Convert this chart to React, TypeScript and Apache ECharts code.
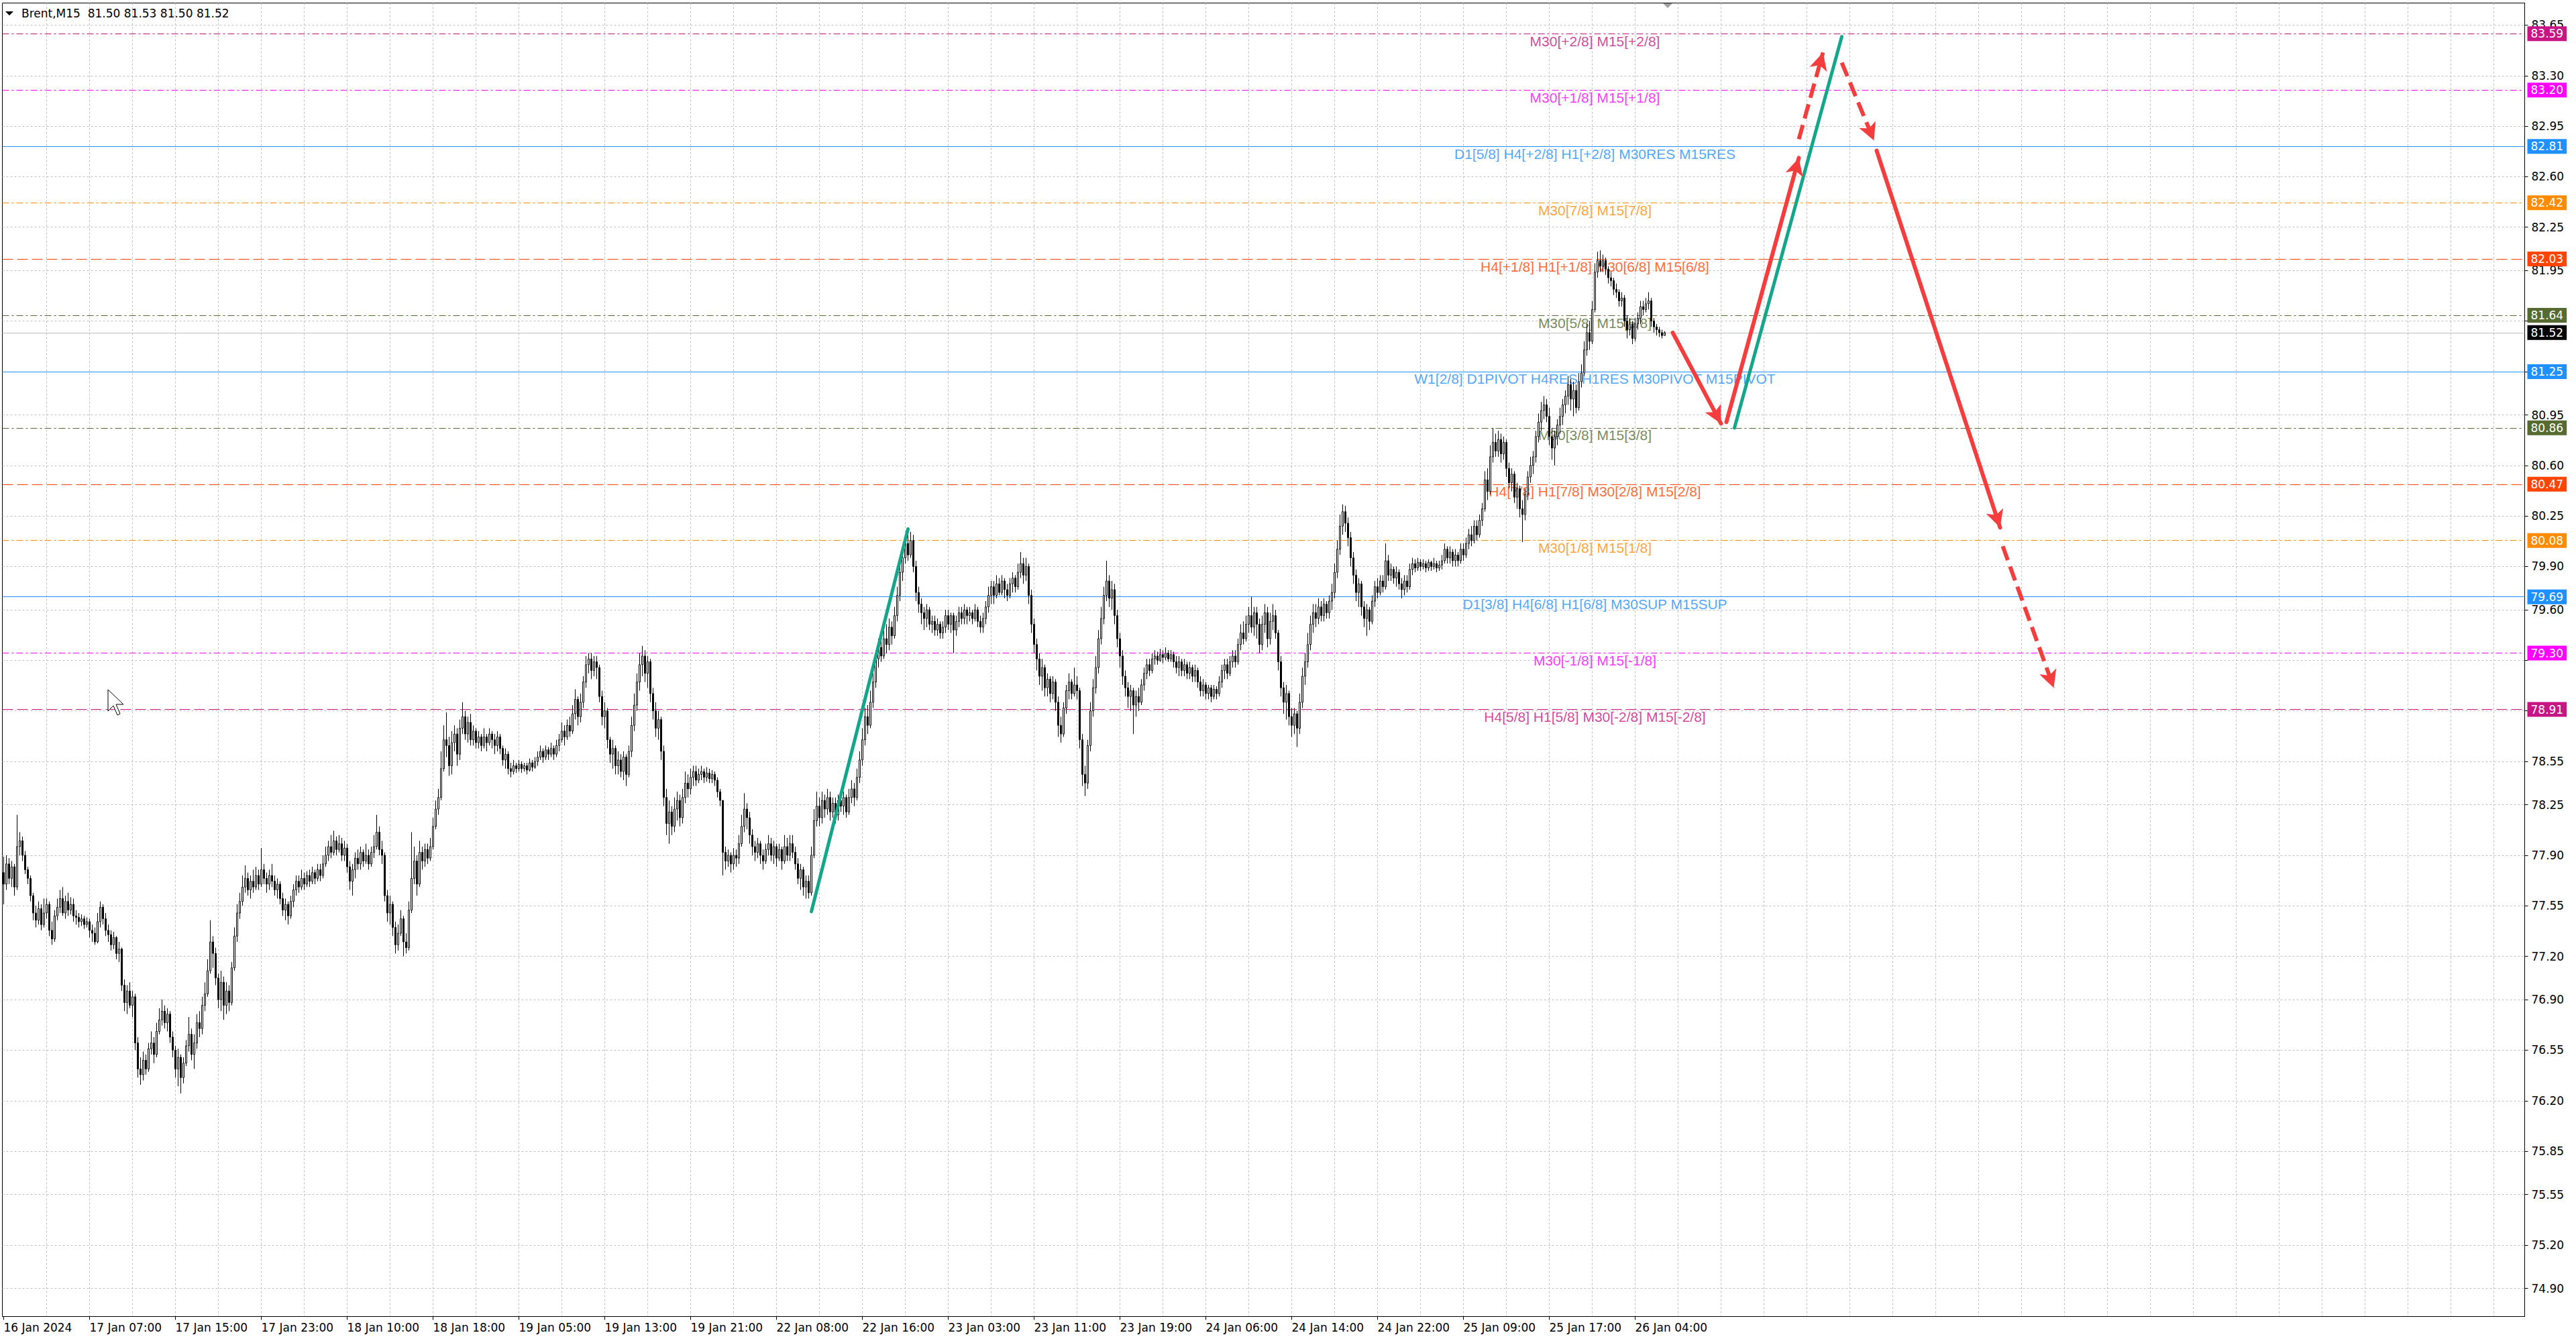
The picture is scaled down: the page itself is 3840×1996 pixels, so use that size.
import React, { useEffect, useRef } from 'react';
import * as echarts from 'echarts';

const header = 'Brent,M15  81.50 81.53 81.50 81.52';

const dateLabels = ['16 Jan 2024', '17 Jan 07:00', '17 Jan 15:00', '17 Jan 23:00', '18 Jan 10:00', '18 Jan 18:00', '19 Jan 05:00', '19 Jan 13:00', '19 Jan 21:00', '22 Jan 08:00', '22 Jan 16:00', '23 Jan 03:00', '23 Jan 11:00', '23 Jan 19:00', '24 Jan 06:00', '24 Jan 14:00', '24 Jan 22:00', '25 Jan 09:00', '25 Jan 17:00', '26 Jan 04:00'];

// price grid ticks; those listed in coveredTicks sit under a level price box in the reference
const yTicks = [74.90, 75.20, 75.55, 75.85, 76.20, 76.55, 76.90, 77.20, 77.55, 77.90, 78.25, 78.55, 78.90, 79.25, 79.60, 79.90, 80.25, 80.60, 80.95, 81.25, 81.60, 81.95, 82.25, 82.60, 82.95, 83.30, 83.65];
const coveredTicks = [78.90, 79.25, 81.25, 81.60];

const firstOpen = 77.78;
const closes = [
  77.70,77.84,77.74,77.82,77.68,77.96,78.00,77.90,77.80,77.74,
  77.62,77.50,77.45,77.53,77.42,77.50,77.56,77.38,77.32,77.48,
  77.54,77.60,77.50,77.58,77.52,77.56,77.48,77.47,77.44,77.46,
  77.42,77.44,77.38,77.36,77.30,77.44,77.54,77.46,77.38,77.35,
  77.28,77.33,77.22,77.25,77.00,76.88,76.96,76.86,76.92,76.60,
  76.42,76.38,76.48,76.42,76.56,76.60,76.52,76.68,76.76,76.82,
  76.74,76.80,76.64,76.55,76.42,76.50,76.36,76.46,76.58,76.66,
  76.52,76.60,76.74,76.70,76.86,76.94,77.10,77.30,77.22,77.05,
  76.90,77.02,76.86,76.96,76.88,77.12,77.34,77.50,77.58,77.68,
  77.74,77.66,77.72,77.68,77.76,77.70,77.80,77.74,77.70,77.76,
  77.72,77.66,77.70,77.60,77.52,77.56,77.48,77.58,77.66,77.72,
  77.68,77.74,77.70,77.76,77.72,77.78,77.74,77.80,77.76,77.84,
  77.90,77.96,77.92,78.00,77.94,77.98,77.90,77.95,77.82,77.72,
  77.80,77.88,77.84,77.92,77.86,77.90,77.84,77.92,77.96,78.06,
  77.94,77.90,77.62,77.50,77.56,77.40,77.28,77.36,77.46,77.30,
  77.26,77.52,77.74,77.86,77.70,77.92,77.86,77.94,77.88,77.96,
  78.10,78.22,78.30,78.50,78.70,78.66,78.52,78.68,78.74,78.60,
  78.78,78.86,78.74,78.82,78.70,78.76,78.68,78.72,78.66,78.72,
  78.68,78.74,78.70,78.66,78.72,78.64,78.56,78.60,78.50,78.48,
  78.52,78.50,78.53,78.50,78.52,78.49,78.54,78.51,78.55,78.58,
  78.62,78.58,78.63,78.60,78.64,78.60,78.66,78.70,78.76,78.72,
  78.80,78.76,78.88,78.98,78.86,78.96,79.10,79.22,79.26,79.18,
  79.24,79.20,79.00,78.86,78.90,78.70,78.60,78.64,78.52,78.56,
  78.48,78.58,78.46,78.62,78.80,78.94,79.10,79.22,79.28,79.16,
  79.24,79.02,78.90,78.78,78.84,78.62,78.30,78.12,78.20,78.10,
  78.22,78.28,78.16,78.30,78.40,78.36,78.44,78.48,78.42,78.46,
  78.48,78.44,78.47,78.43,78.46,78.42,78.34,78.28,77.92,77.86,
  77.90,77.84,77.90,77.88,77.98,78.10,78.22,78.16,78.04,77.96,
  77.92,77.98,77.90,77.86,77.94,77.98,77.90,77.96,77.88,77.94,
  77.86,77.96,77.90,77.98,77.92,77.84,77.74,77.80,77.68,77.72,
  77.64,77.90,78.14,78.24,78.16,78.28,78.22,78.30,78.20,78.26,
  78.18,78.28,78.24,78.30,78.20,78.30,78.36,78.30,78.44,78.56,
  78.70,78.86,78.80,78.96,79.10,79.26,79.34,79.28,79.40,79.36,
  79.48,79.42,79.56,79.70,79.86,79.96,80.06,79.98,80.08,79.90,
  79.72,79.64,79.58,79.54,79.60,79.50,79.52,79.46,79.50,79.44,
  79.48,79.56,79.50,79.56,79.46,79.52,79.58,79.54,79.60,79.56,
  79.58,79.54,79.60,79.52,79.48,79.54,79.62,79.70,79.76,79.70,
  79.78,79.72,79.80,79.74,79.70,79.78,79.82,79.76,79.86,79.92,
  79.84,79.90,79.70,79.50,79.36,79.26,79.14,79.20,79.06,79.12,
  79.02,79.10,78.96,78.80,78.74,78.92,79.04,79.10,79.02,79.08,
  79.04,78.70,78.46,78.40,78.66,78.90,79.06,79.20,79.40,79.54,
  79.70,79.80,79.68,79.74,79.56,79.40,79.28,79.14,79.06,79.00,
  79.04,78.94,79.00,78.96,79.08,79.16,79.22,79.18,79.26,79.28,
  79.25,79.29,79.27,79.30,79.26,79.29,79.24,79.20,79.24,79.18,
  79.22,79.16,79.20,79.14,79.18,79.10,79.04,79.08,79.02,79.06,
  79.00,79.05,79.02,79.10,79.18,79.22,79.16,79.24,79.28,79.24,
  79.36,79.44,79.40,79.50,79.56,79.48,79.58,79.50,79.36,79.50,
  79.58,79.40,79.52,79.56,79.44,79.24,79.06,78.96,79.02,78.86,
  78.80,78.88,78.78,78.96,79.14,79.24,79.36,79.50,79.58,79.54,
  79.62,79.56,79.64,79.58,79.66,79.72,79.86,80.02,80.18,80.28,
  80.20,80.10,79.96,79.84,79.72,79.78,79.62,79.54,79.60,79.52,
  79.66,79.76,79.72,79.80,79.76,79.94,79.84,79.88,79.82,79.86,
  79.78,79.74,79.80,79.76,79.88,79.92,79.89,79.93,79.90,79.92,
  79.89,79.93,79.90,79.92,79.89,79.91,79.94,80.02,79.96,80.00,
  79.94,79.98,79.94,80.02,79.98,80.06,80.12,80.08,80.18,80.12,
  80.22,80.30,80.50,80.42,80.66,80.76,80.70,80.78,80.68,80.76,
  80.58,80.48,80.54,80.38,80.44,80.30,80.26,80.40,80.52,80.60,
  80.66,80.80,80.90,80.98,81.02,80.94,80.80,80.72,80.80,80.88,
  80.94,81.02,81.08,81.16,81.06,81.12,81.00,81.18,81.24,81.40,
  81.52,81.46,81.68,81.94,82.02,81.98,82.02,81.96,81.90,81.88,
  81.82,81.80,81.74,81.76,81.60,81.54,81.58,81.48,81.58,81.62,
  81.70,81.68,81.72,81.74,81.60,81.56,81.54,81.52,81.50,81.52,
];
const highs = [
  77.89,77.90,77.88,77.86,77.84,78.18,78.06,78.03,77.93,77.82,
  77.76,77.64,77.55,77.58,77.56,77.60,77.60,77.58,77.44,77.52,
  77.60,77.66,77.68,77.62,77.64,77.61,77.60,77.52,77.50,77.49,
  77.48,77.47,77.46,77.42,77.40,77.50,77.58,77.56,77.50,77.42,
  77.38,77.37,77.34,77.30,77.26,77.04,77.00,77.02,76.96,76.94,
  76.64,76.50,76.54,76.52,76.60,76.68,76.64,76.74,76.84,76.90,
  76.86,76.84,76.82,76.68,76.58,76.56,76.52,76.50,76.62,76.78,
  76.70,76.66,76.80,76.82,76.92,77.02,77.18,77.45,77.34,77.26,
  77.08,77.10,77.06,77.02,77.00,77.16,77.40,77.56,77.64,77.76,
  77.83,77.78,77.76,77.80,77.82,77.80,77.95,77.84,77.78,77.80,
  77.84,77.76,77.74,77.72,77.64,77.60,77.58,77.62,77.70,77.76,
  77.76,77.80,77.78,77.79,77.80,77.82,77.80,77.84,77.84,77.90,
  77.96,78.00,78.04,78.07,78.03,78.04,78.02,78.00,77.98,77.86,
  77.84,77.92,77.94,77.96,77.94,77.98,77.94,77.96,78.04,78.18,
  78.10,78.00,77.92,77.66,77.62,77.58,77.44,77.42,77.52,77.48,
  77.36,77.58,78.06,77.96,77.90,78.00,77.96,77.98,77.98,78.02,
  78.16,78.28,78.36,78.62,78.80,78.89,78.72,78.76,78.80,78.78,
  78.84,78.96,78.90,78.86,78.88,78.80,78.78,78.76,78.74,78.78,
  78.74,78.78,78.76,78.74,78.76,78.74,78.66,78.64,78.62,78.54,
  78.56,78.54,78.56,78.55,78.54,78.54,78.57,78.56,78.58,78.62,
  78.66,78.64,78.66,78.65,78.68,78.66,78.70,78.74,78.82,78.80,
  78.84,78.86,78.94,79.05,79.00,79.02,79.14,79.28,79.30,79.30,
  79.28,79.28,79.22,79.04,78.96,78.92,78.72,78.70,78.66,78.62,
  78.60,78.62,78.60,78.66,78.86,79.02,79.16,79.30,79.35,79.32,
  79.28,79.26,79.06,78.96,78.90,78.86,78.66,78.36,78.28,78.24,
  78.30,78.34,78.32,78.36,78.48,78.46,78.50,78.52,78.52,78.50,
  78.52,78.50,78.51,78.50,78.49,78.48,78.44,78.36,78.28,77.96,
  77.94,77.92,77.95,77.94,78.04,78.18,78.33,78.26,78.20,78.08,
  78.00,78.02,78.00,77.94,77.98,78.04,78.02,78.00,77.98,77.98,
  77.96,78.04,78.02,78.04,78.04,77.96,77.88,77.84,77.82,77.76,
  77.76,77.96,78.22,78.34,78.30,78.34,78.32,78.36,78.34,78.30,
  78.30,78.32,78.36,78.34,78.32,78.36,78.42,78.40,78.50,78.62,
  78.78,78.92,78.94,79.04,79.16,79.32,79.40,79.42,79.46,79.50,
  79.54,79.52,79.62,79.76,79.92,80.02,80.12,80.16,80.14,80.12,
  79.94,79.76,79.68,79.62,79.64,79.62,79.56,79.56,79.54,79.52,
  79.52,79.60,79.60,79.58,79.58,79.56,79.62,79.62,79.64,79.62,
  79.62,79.60,79.64,79.62,79.56,79.58,79.66,79.76,79.80,79.80,
  79.84,79.82,79.84,79.82,79.78,79.82,79.86,79.84,79.92,80.00,
  79.96,79.96,79.92,79.74,79.54,79.40,79.30,79.26,79.22,79.16,
  79.14,79.14,79.12,79.00,78.86,78.96,79.08,79.16,79.12,79.20,
  79.14,79.06,78.74,78.52,78.70,78.96,79.12,79.28,79.46,79.62,
  79.76,79.94,79.84,79.80,79.78,79.60,79.44,79.32,79.18,79.10,
  79.08,79.06,79.04,79.06,79.12,79.20,79.26,79.26,79.30,79.32,
  79.31,79.33,79.32,79.34,79.32,79.32,79.31,79.28,79.28,79.26,
  79.26,79.24,79.24,79.22,79.22,79.20,79.14,79.12,79.10,79.08,
  79.08,79.08,79.07,79.14,79.22,79.26,79.26,79.28,79.32,79.32,
  79.40,79.50,79.52,79.56,79.62,79.69,79.62,79.62,79.54,79.56,
  79.64,79.62,79.58,79.64,79.60,79.46,79.28,79.10,79.08,79.04,
  78.92,78.92,78.90,79.02,79.20,79.30,79.44,79.56,79.64,79.64,
  79.68,79.66,79.68,79.66,79.70,79.78,79.92,80.08,80.26,80.33,
  80.32,80.24,80.14,80.00,79.88,79.82,79.80,79.66,79.64,79.62,
  79.70,79.80,79.82,79.84,79.84,80.06,79.98,79.92,79.90,79.90,
  79.88,79.82,79.84,79.84,79.92,79.96,79.95,79.96,79.95,79.95,
  79.94,79.95,79.94,79.96,79.94,79.94,79.98,80.06,80.04,80.04,
  80.02,80.02,80.00,80.06,80.06,80.10,80.16,80.18,80.22,80.22,
  80.26,80.34,80.56,80.58,80.74,80.86,80.82,80.84,80.82,80.80,
  80.78,80.62,80.58,80.56,80.48,80.46,80.36,80.44,80.56,80.66,
  80.70,80.84,80.96,81.04,81.08,81.06,81.00,80.86,80.84,80.92,
  81.00,81.06,81.12,81.22,81.20,81.18,81.16,81.24,81.30,81.46,
  81.58,81.60,81.74,82.00,82.08,82.09,82.06,82.04,81.98,81.94,
  81.90,81.86,81.82,81.80,81.78,81.64,81.62,81.60,81.62,81.66,
  81.74,81.74,81.76,81.80,81.76,81.62,81.58,81.56,81.54,81.53,
];
const lows = [
  77.56,77.66,77.70,77.68,77.62,77.66,77.90,77.86,77.77,77.70,
  77.58,77.45,77.40,77.42,77.38,77.40,77.46,77.34,77.28,77.30,
  77.45,77.50,77.48,77.46,77.48,77.49,77.44,77.42,77.40,77.41,
  77.39,77.40,77.33,77.30,77.28,77.29,77.40,77.42,77.34,77.30,
  77.24,77.25,77.18,77.16,76.96,76.82,76.80,76.84,76.78,76.55,
  76.36,76.31,76.34,76.38,76.40,76.52,76.46,76.50,76.66,76.72,
  76.70,76.68,76.60,76.50,76.36,76.30,76.25,76.32,76.44,76.54,
  76.48,76.42,76.56,76.64,76.66,76.82,76.92,77.08,77.12,77.00,
  76.84,76.82,76.76,76.80,76.82,76.86,77.10,77.30,77.46,77.55,
  77.64,77.62,77.60,77.64,77.66,77.66,77.68,77.70,77.64,77.66,
  77.68,77.62,77.60,77.56,77.48,77.45,77.42,77.46,77.54,77.62,
  77.64,77.66,77.66,77.68,77.68,77.70,77.70,77.72,77.72,77.74,
  77.82,77.86,77.88,77.90,77.90,77.92,77.86,77.86,77.78,77.66,
  77.62,77.74,77.80,77.80,77.82,77.84,77.80,77.82,77.88,77.94,
  77.90,77.84,77.58,77.44,77.42,77.34,77.22,77.24,77.34,77.20,
  77.22,77.24,77.50,77.70,77.62,77.68,77.80,77.82,77.84,77.86,
  77.94,78.08,78.18,78.28,78.48,78.58,78.45,78.46,78.62,78.52,
  78.56,78.74,78.70,78.68,78.66,78.66,78.64,78.64,78.62,78.64,
  78.62,78.66,78.64,78.60,78.62,78.60,78.52,78.50,78.46,78.44,
  78.46,78.47,78.48,78.47,78.48,78.46,78.48,78.48,78.50,78.52,
  78.56,78.54,78.56,78.56,78.58,78.56,78.58,78.62,78.68,78.66,
  78.70,78.72,78.74,78.84,78.80,78.82,78.92,79.06,79.16,79.12,
  79.14,79.12,78.96,78.80,78.78,78.64,78.54,78.50,78.46,78.46,
  78.44,78.42,78.38,78.44,78.58,78.76,78.90,79.04,79.14,79.10,
  79.06,78.96,78.84,78.72,78.70,78.56,78.24,78.04,77.98,78.04,
  78.06,78.14,78.10,78.12,78.26,78.30,78.32,78.38,78.38,78.40,
  78.42,78.40,78.41,78.40,78.40,78.38,78.30,78.24,77.76,77.80,
  77.82,77.78,77.80,77.82,77.84,77.96,78.06,78.08,77.98,77.90,
  77.86,77.88,77.84,77.80,77.84,77.90,77.86,77.84,77.82,77.86,
  77.80,77.84,77.86,77.86,77.88,77.80,77.70,77.66,77.62,77.60,
  77.60,77.62,77.88,78.10,78.10,78.12,78.16,78.18,78.14,78.16,
  78.12,78.14,78.20,78.18,78.16,78.18,78.26,78.24,78.28,78.40,
  78.52,78.66,78.74,78.78,78.92,79.06,79.20,79.24,79.26,79.30,
  79.32,79.36,79.40,79.52,79.66,79.80,79.92,79.94,79.96,79.86,
  79.66,79.58,79.50,79.46,79.48,79.46,79.44,79.42,79.42,79.40,
  79.40,79.44,79.46,79.44,79.30,79.42,79.48,79.50,79.50,79.50,
  79.52,79.50,79.52,79.48,79.44,79.44,79.50,79.58,79.64,79.64,
  79.68,79.70,79.70,79.68,79.66,79.68,79.72,79.72,79.74,79.82,
  79.78,79.80,79.64,79.44,79.30,79.18,79.08,79.04,79.00,79.00,
  78.96,78.98,78.90,78.72,78.68,78.72,78.88,78.98,78.98,79.00,
  78.98,78.64,78.38,78.31,78.36,78.62,78.86,79.02,79.16,79.36,
  79.50,79.66,79.62,79.60,79.50,79.34,79.20,79.08,79.00,78.92,
  78.90,78.74,78.86,78.90,78.94,79.04,79.12,79.14,79.16,79.22,
  79.22,79.24,79.23,79.25,79.24,79.24,79.20,79.16,79.14,79.14,
  79.14,79.12,79.12,79.10,79.10,79.06,79.00,79.00,78.98,78.98,
  78.96,78.98,78.98,79.00,79.06,79.12,79.12,79.14,79.20,79.20,
  79.22,79.32,79.36,79.38,79.44,79.44,79.42,79.40,79.30,79.32,
  79.44,79.34,79.36,79.46,79.40,79.18,79.00,78.88,78.84,78.80,
  78.72,78.74,78.65,78.74,78.92,79.08,79.20,79.32,79.44,79.48,
  79.50,79.52,79.52,79.54,79.54,79.60,79.68,79.82,79.98,80.12,
  80.14,80.04,79.90,79.78,79.66,79.62,79.56,79.48,79.42,79.46,
  79.50,79.62,79.68,79.70,79.72,79.74,79.80,79.80,79.78,79.76,
  79.74,79.68,79.70,79.72,79.74,79.84,79.86,79.87,79.87,79.88,
  79.86,79.87,79.87,79.88,79.86,79.87,79.88,79.92,79.92,79.92,
  79.90,79.90,79.90,79.92,79.94,79.96,80.02,80.04,80.06,80.08,
  80.10,80.18,80.28,80.36,80.40,80.62,80.66,80.66,80.62,80.64,
  80.52,80.44,80.42,80.34,80.30,80.24,80.07,80.22,80.36,80.48,
  80.54,80.62,80.76,80.84,80.92,80.90,80.74,80.64,80.60,80.74,
  80.82,80.88,80.96,81.02,80.98,80.94,80.96,80.98,81.14,81.22,
  81.36,81.40,81.44,81.66,81.90,81.94,81.94,81.92,81.86,81.84,
  81.78,81.76,81.70,81.70,81.56,81.48,81.50,81.44,81.46,81.54,
  81.58,81.64,81.66,81.68,81.56,81.52,81.50,81.49,81.48,81.50,
];

const levelPrices = [83.59, 83.20, 82.81, 82.42, 82.03, 81.64, 81.25, 80.86, 80.47, 80.08, 79.69, 79.30, 78.91];
const levelNames = [
  'M30[+2/8] M15[+2/8]',
  'M30[+1/8] M15[+1/8]',
  'D1[5/8] H4[+2/8] H1[+2/8] M30RES M15RES',
  'M30[7/8] M15[7/8]',
  'H4[+1/8] H1[+1/8] M30[6/8] M15[6/8]',
  'M30[5/8] M15[5/8]',
  'W1[2/8] D1PIVOT H4RES H1RES M30PIVOT M15PIVOT',
  'M30[3/8] M15[3/8]',
  'H4[7/8] H1[7/8] M30[2/8] M15[2/8]',
  'M30[1/8] M15[1/8]',
  'D1[3/8] H4[6/8] H1[6/8] M30SUP M15SUP',
  'M30[-1/8] M15[-1/8]',
  'H4[5/8] H1[5/8] M30[-2/8] M15[-2/8]',
];
const bidPrice = 81.52;
const levelLabelBar = 593;

// projection segments: [barIndex, price]
const tealLines = [
  [[300.5, 77.51], [336.5, 80.16]],
  [[645.25, 80.86], [685, 83.57]],
];
const redSolidArrows = [
  [[622, 81.52], [639.5, 80.89]],
  [[642, 80.90], [668.5, 82.73]],
  [[698, 82.78], [743.6, 80.17]],
];
const redDashedArrows = [
  [[669, 82.86], [678.2, 83.46]],
  [[684.5, 83.39], [696.8, 82.85]],
  [[745, 80.04], [764.3, 79.06]],
];

// ---- styles / layout ----
const SLOT_COUNT = 940;
const LABEL_EVERY = 32;
const GRID_EVERY = 16;
const DASHDOT = [10, 4, 3, 4];
const DASH = [16, 6];
const levelStyles: any[] = [
  { color: '#C71585', dash: DASHDOT },
  { color: '#FF00FF', dash: DASHDOT },
  { color: '#1E90FF', dash: 'solid' },
  { color: '#FF8C00', dash: DASHDOT },
  { color: '#FF4500', dash: DASH },
  { color: '#556B2F', dash: DASHDOT },
  { color: '#1E90FF', dash: 'solid' },
  { color: '#556B2F', dash: DASHDOT },
  { color: '#FF4500', dash: DASH },
  { color: '#FF8C00', dash: DASHDOT },
  { color: '#1E90FF', dash: 'solid' },
  { color: '#FF00FF', dash: DASHDOT },
  { color: '#C71585', dash: DASH },
];
const RED = '#F53D3D';
const TEAL = '#14A68A';
const AXIS_FONT = 'DejaVu Sans';

export default function App() {
  const ref = useRef<HTMLDivElement>(null);
  useEffect(() => {
    if (!ref.current) return;
    const chart = echarts.init(ref.current, null, { renderer: 'svg' });
    const categories = Array.from({ length: SLOT_COUNT }, (_, i) => String(i));
    const candles = closes.map((c, i) => [i === 0 ? firstOpen : closes[i - 1], c, lows[i], highs[i]]);
    const labelShown = (i: number) => i % LABEL_EVERY === 0 && i / LABEL_EVERY < dateLabels.length;

    const seg = (s: any, style: any, arrow: boolean) => [
      { coord: s[0], symbol: 'none', lineStyle: style },
      { coord: s[1], symbol: arrow ? 'arrow' : 'none', symbolSize: [20, 26], lineStyle: style },
    ];

    const option: any = {
      animation: false,
      backgroundColor: '#ffffff',
      grid: { left: 3.5, top: 4.5, width: 3760, height: 1958, show: true, borderColor: '#000', borderWidth: 1, backgroundColor: 'transparent' },
      xAxis: {
        type: 'category',
        data: categories,
        boundaryGap: true,
        axisLine: { show: true, lineStyle: { color: '#000', width: 1 } },
        axisTick: { show: true, alignWithLabel: true, length: 5, interval: (i: number) => labelShown(i), lineStyle: { color: '#000' } },
        axisLabel: {
          show: true,
          interval: (i: number) => labelShown(i),
          formatter: (_v: any, i: number) => dateLabels[i / LABEL_EVERY] || '',
          align: 'left',
          margin: 8,
          color: '#000',
          fontSize: 17,
          fontFamily: AXIS_FONT,
        },
        splitLine: { show: true, alignWithLabel: true, interval: (i: number) => i > 0 && i % GRID_EVERY === 0, lineStyle: { color: '#c0c0c0', type: [3, 3], width: 1 } },
      },
      yAxis: {
        type: 'value',
        position: 'right',
        min: 74.705,
        max: 83.803,
        axisLine: { show: true, onZero: false, lineStyle: { color: '#000' } },
        axisTick: { show: true, customValues: yTicks, length: 5, lineStyle: { color: '#000' } },
        axisLabel: { show: false },
        splitLine: { show: false },
      },
      graphic: [
        { type: 'polygon', z: 100, shape: { points: [[8, 17], [20, 17], [14, 23]] }, style: { fill: '#000' } },
        { type: 'text', z: 100, x: 32, y: 20, style: { text: header, fill: '#000', fontSize: 17, fontFamily: AXIS_FONT, verticalAlign: 'middle' } },
        { type: 'polygon', z: 100, shape: { points: [[2479, 5], [2493, 5], [2486, 12]] }, style: { fill: '#a0a0a0' } },
        {
          type: 'polygon', z: 100,
          shape: { points: [[161, 1028], [161, 1060], [169, 1052], [175, 1066], [179, 1064], [173, 1050], [184, 1050]] },
          style: { fill: '#fff', stroke: '#000', lineWidth: 1 },
        },
      ],
      series: [
        {
          type: 'line', name: 'grid', data: [], silent: true,
          markLine: {
            z: 1, silent: true, symbol: 'none', animation: false,
            lineStyle: { color: '#c0c0c0', type: [3, 3], width: 1 },
            label: { show: true, position: 'end', distance: 10, formatter: (p: any) => Number(p.value).toFixed(2), color: '#000', fontSize: 17, fontFamily: AXIS_FONT },
            emphasis: { disabled: true },
            data: yTicks.map((v) => ({ yAxis: v, label: { show: coveredTicks.indexOf(v) < 0 } })),
          },
        },
        {
          type: 'line', name: 'levels', data: [], silent: true,
          markLine: {
            z: 2, silent: true, symbol: 'none', animation: false,
            label: { show: true, position: 'end', distance: 4, formatter: (p: any) => Number(p.value).toFixed(2), color: '#fff', fontSize: 17, fontFamily: AXIS_FONT, padding: [2, 5, 1, 5], lineHeight: 19 },
            emphasis: { disabled: true },
            data: levelPrices.map((v, i) => ({
              yAxis: v,
              lineStyle: { color: levelStyles[i].color, type: levelStyles[i].dash, width: 1 },
              label: { backgroundColor: levelStyles[i].color },
            })).concat([{ yAxis: bidPrice, lineStyle: { color: '#c0c0c0', type: 'solid', width: 1 }, label: { backgroundColor: '#000' } } as any]),
          },
        },
        {
          type: 'scatter', name: 'levelText', z: 3, silent: true,
          symbol: 'circle', symbolSize: 1,
          itemStyle: { color: 'transparent' },
          label: {
            show: true, position: 'inside', offset: [0, 11], align: 'center', verticalAlign: 'middle',
            fontSize: 21, fontFamily: 'Liberation Sans, Arial, sans-serif',
            formatter: (p: any) => levelNames[p.dataIndex],
          },
          data: levelPrices.map((v, i) => ({ value: [levelLabelBar, v], label: { color: levelStyles[i].color } })),
        },
        {
          type: 'candlestick', name: 'Brent', z: 5, large: false, silent: true,
          barWidth: 2,
          data: candles,
          itemStyle: { color: '#ffffff', color0: '#000000', borderColor: '#000000', borderColor0: '#000000', borderWidth: 1 },
        },
        {
          type: 'line', name: 'projection', data: [], silent: true,
          markLine: {
            z: 10, silent: true, animation: false,
            symbol: ['none', 'arrow'],
            label: { show: false },
            emphasis: { disabled: true },
            data: [
              ...tealLines.map((s) => seg(s, { color: TEAL, width: 5, type: 'solid', cap: 'round' }, false)),
              ...redSolidArrows.map((s) => seg(s, { color: RED, width: 6, type: 'solid', cap: 'round' }, true)),
              ...redDashedArrows.map((s) => seg(s, { color: RED, width: 6, type: [22, 10] }, true)),
            ],
          },
        },
      ],
    };
    chart.setOption(option);
    return () => chart.dispose();
  }, []);
  return <div ref={ref} style={{ position: 'fixed', left: 0, top: 0, width: 3840, height: 1996, background: '#fff' }} />;
}
